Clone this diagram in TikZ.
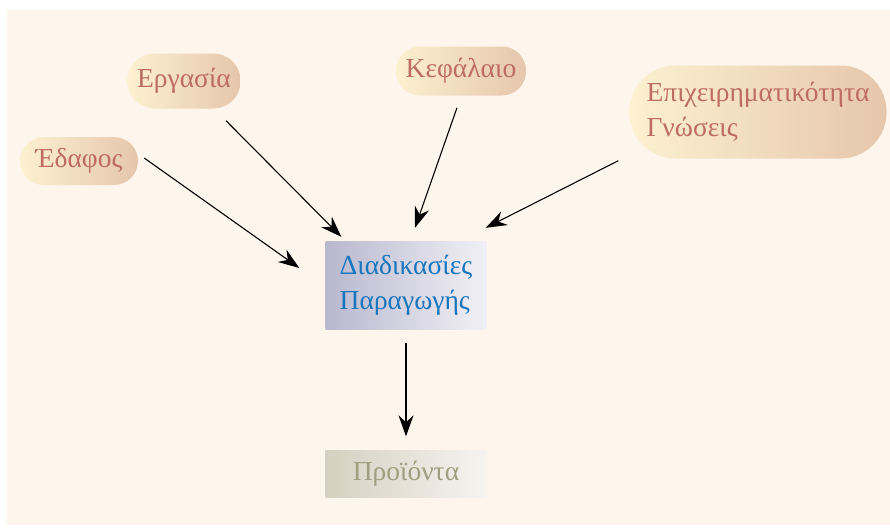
\documentclass[tikz,border=0pt]{standalone}
\usepackage{fontspec}
\setmainfont{Liberation Serif}
\usetikzlibrary{arrows.meta}

\definecolor{paper}{RGB}{254,246,236}
\definecolor{pillL}{RGB}{252,241,208}
\definecolor{pillR}{RGB}{230,198,172}
\definecolor{pilltext}{RGB}{190,108,98}
\definecolor{procL}{RGB}{184,184,206}
\definecolor{procR}{RGB}{242,240,246}
\definecolor{proctext}{RGB}{22,118,190}
\definecolor{prodL}{RGB}{214,208,192}
\definecolor{prodR}{RGB}{246,244,241}
\definecolor{prodtext}{RGB}{160,158,128}

\begin{document}
\begin{tikzpicture}[x=1pt,y=-1pt,
  txt/.style={font=\fontsize{27.5}{35}\selectfont, inner sep=0pt, align=left},
  pill/.style={txt, left color=pillL, right color=pillR, text=pilltext},
  procbox/.style={txt, left color=procL, right color=procR, text=proctext},
  prodbox/.style={txt, left color=prodL, right color=prodR, text=prodtext},
  conn/.style={line width=1.1pt, -{Stealth[length=21pt,width=15pt,inset=7pt]}}]

\useasboundingbox (0,0) rectangle (890,528);
\fill[white] (0,0) rectangle (890,528);
\fill[paper] (7,10) rectangle (890,525);

% inputs
\node[pill, minimum width=118pt, minimum height=48pt, rounded corners=24pt] (edafos) at (79,161) {Έδαφος};
\node[pill, minimum width=113pt, minimum height=55pt, rounded corners=27pt] (ergasia) at (184,81) {Εργασία};
\node[pill, minimum width=130pt, minimum height=49pt, rounded corners=24pt] (kefalaio) at (461,71) {Κεφάλαιο};
\node[pill, minimum width=257pt, minimum height=93pt, rounded corners=46pt] (epix) at (758,112) {Επιχειρηματικότητα\\Γνώσεις};

% process and output
\node[procbox, minimum width=161pt, minimum height=88pt] (proc) at (406,285) {Διαδικασίες\\Παραγωγής};
\node[prodbox, minimum width=161pt, minimum height=47pt] (prod) at (406,474) {Προϊόντα};

% connectors
\draw[conn] ([shift={(6,-3)}]edafos.east) -- ([shift={(-26,-17)}]proc.west);
\draw[conn] ([shift={(42,12)}]ergasia.south) -- ([shift={(16,-4)}]proc.north west);
\draw[conn] ([shift={(-4,12)}]kefalaio.south) -- ([shift={(9,-13)}]proc.north);
\draw[conn] ([shift={(-11,2)}]epix.south west) -- ([shift={(-1,-13)}]proc.north east);
\draw[conn] ([shift={(0,14)}]proc.south) -- ([shift={(0,-14)}]prod.north);
\end{tikzpicture}
\end{document}
